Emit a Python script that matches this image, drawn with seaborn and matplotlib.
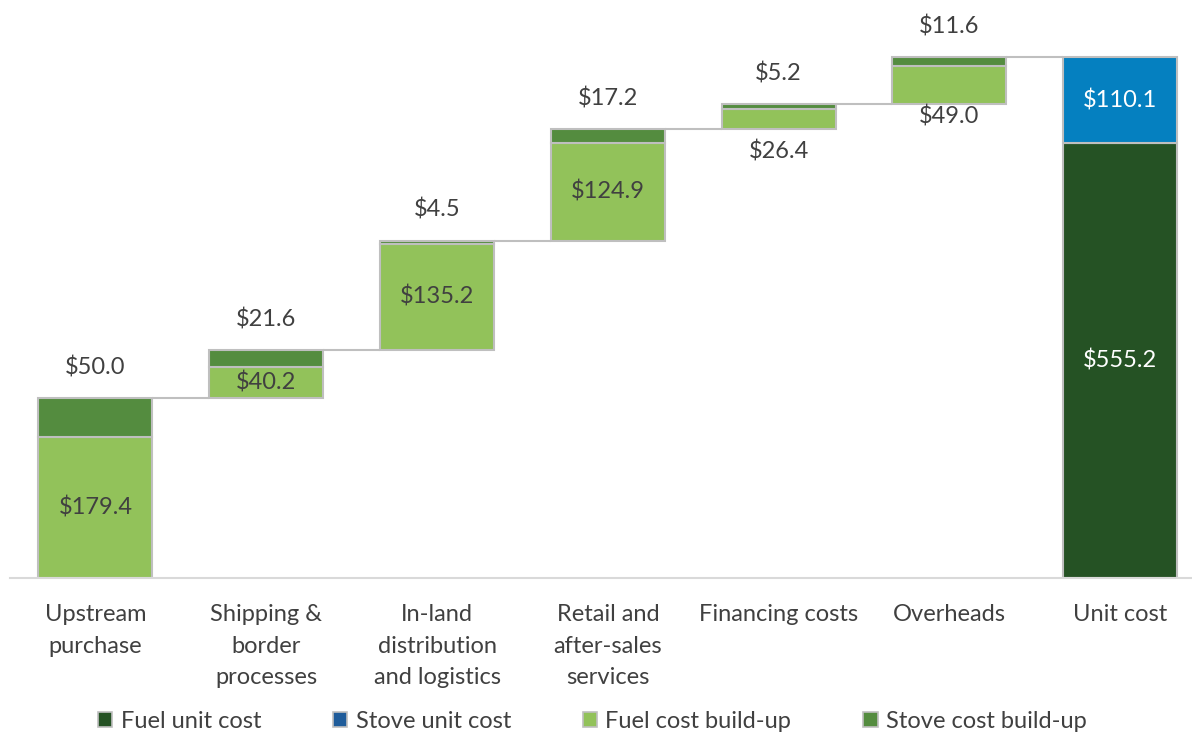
import matplotlib
matplotlib.use("Agg")
import matplotlib.pyplot as plt
from matplotlib.patches import Patch
import seaborn as sns
import pandas as pd
import numpy as np

categories = ["Upstream\npurchase", "Shipping &\nborder\nprocesses", "In-land\ndistribution\nand logistics",
              "Retail and\nafter-sales\nservices", "Financing costs", "Overheads", "Unit cost"]
fuel_values = [179.4, 40.2, 135.2, 124.9, 26.4, 49.0, 555.2]
stove_values = [50.0, 21.6, 4.5, 17.2, 5.2, 11.6, 110.1]
fuel_label_pos = ["inside", "inside", "inside", "inside", "below", "below", "inside"]
legend_labels = ["Fuel unit cost", "Stove unit cost", "Fuel cost build-up", "Stove cost build-up"]

C_FUEL_BUILD = "#92C25A"
C_STOVE_BUILD = "#548C3F"
C_FUEL_UNIT = "#255224"
C_STOVE_UNIT = "#0580C0"
C_STOVE_UNIT_LEG = "#1F5C9A"
EDGE = "#BFBFBF"
TXT = "#404040"

sns.set_theme(style="white")
plt.rcParams["font.family"] = ["Lato", "DejaVu Sans"]

n = len(categories)
fuel = np.array(fuel_values)
stove = np.array(stove_values)
step_tot = fuel[:-1] + stove[:-1]
cum_before = np.concatenate([[0], np.cumsum(step_tot)[:-1]])
fuel_bottom = np.concatenate([cum_before, [0]])
stove_bottom = np.concatenate([cum_before + fuel[:-1], [fuel[-1]]])
tops = stove_bottom + stove

df = pd.DataFrame({"cat": categories, "fuel": fuel, "stove": stove,
                   "fb": fuel_bottom, "sb": stove_bottom})

fig = plt.figure(figsize=(11.92, 7.34), dpi=100)
ax = fig.add_axes([10 / 1192, 1 - 578 / 734, 1 - 10 / 1192, (578 - 45.4) / 734])
W = 0.667

sns.barplot(data=df, x="cat", y="fuel", bottom=df["fb"].values, order=categories,
            color=C_FUEL_BUILD, saturation=1, width=W, edgecolor=EDGE, linewidth=1.5,
            errorbar=None, ax=ax)
n_f = len(ax.patches)
sns.barplot(data=df, x="cat", y="stove", bottom=df["sb"].values, order=categories,
            color=C_STOVE_BUILD, saturation=1, width=W, edgecolor=EDGE, linewidth=1.5,
            errorbar=None, ax=ax)
ax.patches[n_f - 1].set_facecolor(C_FUEL_UNIT)
ax.patches[-1].set_facecolor(C_STOVE_UNIT)

# connectors
for i in range(n - 1):
    ax.hlines(tops[i], i + W / 2, i + 1 - W / 2, color=EDGE, lw=1.5, zorder=1)

fs = 17
for i in range(n):
    if i == n - 1:
        ax.text(i, fuel_bottom[i] + fuel[i] / 2, f"${fuel[i]:.1f}", ha="center", va="center",
                color="white", fontsize=fs)
        ax.text(i, stove_bottom[i] + stove[i] / 2, f"${stove[i]:.1f}", ha="center", va="center",
                color="white", fontsize=fs)
        continue
    ax.annotate(f"${stove[i]:.1f}", (i, tops[i]), xytext=(0, 22), textcoords="offset points",
                ha="center", va="center", color=TXT, fontsize=fs)
    if fuel_label_pos[i] == "inside":
        ax.text(i, fuel_bottom[i] + fuel[i] / 2, f"${fuel[i]:.1f}", ha="center", va="center",
                color=TXT, fontsize=fs)
    else:
        off = -16 if i == 4 else -9
        ax.annotate(f"${fuel[i]:.1f}", (i, fuel_bottom[i]), xytext=(0, off), textcoords="offset points",
                    ha="center", va="center", color=TXT, fontsize=fs)

ax.set_xlim(-0.5, 6.42)
ax.set_ylim(0, 680)
ax.set_xlabel("")
ax.set_ylabel("")
ax.set_yticks([])
for s in ["top", "left", "right"]:
    ax.spines[s].set_visible(False)
ax.spines["bottom"].set_color("#D9D9D9")
ax.spines["bottom"].set_linewidth(1.5)
ax.tick_params(axis="x", length=0, pad=19, labelsize=fs, labelcolor=TXT)
for lab in ax.get_xticklabels():
    lab.set_linespacing(1.6)
    lab.set_va("top")

handles = [Patch(facecolor=c, edgecolor=EDGE, linewidth=1.2) for c in
           [C_FUEL_UNIT, C_STOVE_UNIT_LEG, C_FUEL_BUILD, C_STOVE_BUILD]]
fig.legend(handles, legend_labels, loc="center", bbox_to_anchor=(0.497, 1 - 721 / 734), ncol=4,
           frameon=False, fontsize=fs, labelcolor=TXT, handlelength=0.6, handleheight=0.6,
           handletextpad=0.35, columnspacing=3.05)

fig.savefig("out.png", dpi=100)
